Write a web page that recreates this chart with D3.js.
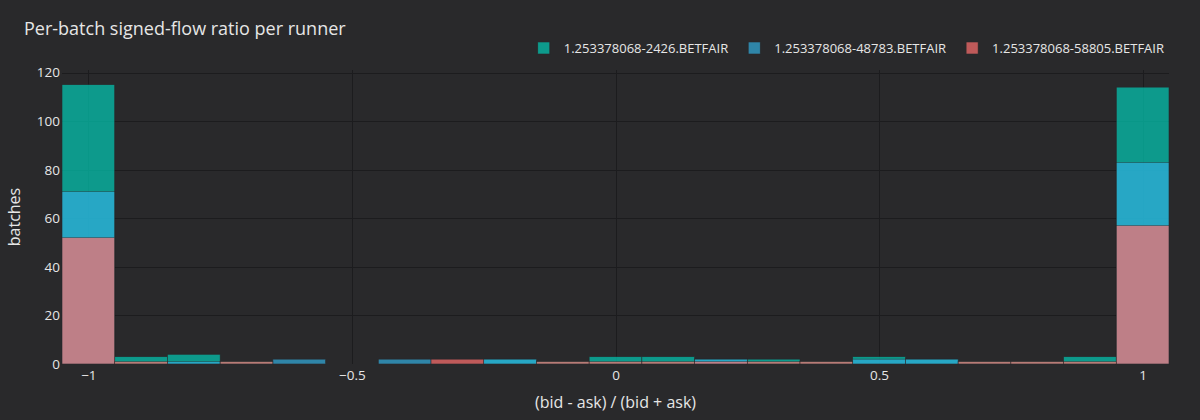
<!DOCTYPE html>
<html>
<head>
<meta charset="utf-8">
<script src="https://cdn.jsdelivr.net/npm/d3@7"></script>
<style>
  html, body { margin: 0; padding: 0; background: #29292b; }
  svg { display: block; }
  text { font-family: "Open Sans", "Noto Sans", sans-serif; }
</style>
</head>
<body>
<svg id="chart" width="1200" height="420"></svg>
<script>
// ---- data ----
const binCenters = [-1, -0.9, -0.8, -0.7, -0.6, -0.5, -0.4, -0.3, -0.2, -0.1, 0, 0.1, 0.2, 0.3, 0.4, 0.5, 0.6, 0.7, 0.8, 0.9, 1];
const binWidth = 0.1;
const seriesNames = ["1.253378068-2426.BETFAIR", "1.253378068-48783.BETFAIR", "1.253378068-58805.BETFAIR"];
const counts2426  = [115, 3, 4, 1, 0, 0, 0, 0, 2, 1, 3, 3, 2, 2, 1, 3, 2, 1, 1, 3, 114];
const counts48783 = [71, 0, 1, 0, 2, 0, 2, 0, 2, 0, 0, 0, 2, 0, 0, 2, 2, 0, 0, 0, 83];
const counts58805 = [52, 1, 0, 1, 0, 0, 0, 2, 0, 1, 1, 1, 1, 1, 1, 0, 0, 1, 1, 1, 57];
const xTicks = [-1, -0.5, 0, 0.5, 1];
const xTickLabels = ["\u22121", "\u22120.5", "0", "0.5", "1"];
const yTicks = [0, 20, 40, 60, 80, 100, 120];
const titleText = "Per-batch signed-flow ratio per runner";
const xTitle = "(bid - ask) / (bid + ask)";
const yTitle = "batches";

// ---- styles ----
const colors = ["#02cbb6", "#32adde", "#ff6f6e"];
const barOpacity = 0.7;
const gridColor = "#1c1c1e";
const textColor = "#e6e6e6";

const svg = d3.select("#chart");
const plot = { left: 62, right: 1169, top: 70, bottom: 364 };

const x = d3.scaleLinear().domain([-1.05, 1.05]).range([plot.left, plot.right]);
const y = d3.scaleLinear().domain([0, 121.05]).range([plot.bottom, plot.top]);

// background
svg.append("rect").attr("width", 1200).attr("height", 420).attr("fill", "#29292b");

// grid
const grid = svg.append("g");
grid.selectAll("line.v").data(xTicks).enter().append("line")
  .attr("x1", d => Math.round(x(d)) + 0.5).attr("x2", d => Math.round(x(d)) + 0.5)
  .attr("y1", plot.top).attr("y2", plot.bottom)
  .attr("stroke", gridColor).attr("stroke-width", 1);
grid.selectAll("line.h").data(yTicks.filter(d => d > 0)).enter().append("line")
  .attr("y1", d => Math.round(y(d)) + 0.5).attr("y2", d => Math.round(y(d)) + 0.5)
  .attr("x1", plot.left).attr("x2", plot.right)
  .attr("stroke", gridColor).attr("stroke-width", 1);

// bars (overlay)
const allSeries = [counts2426, counts48783, counts58805];
allSeries.forEach((vals, si) => {
  const data = binCenters.map((c, i) => ({ c, v: vals[i] })).filter(d => d.v > 0);
  svg.append("g").selectAll("rect").data(data).enter().append("rect")
    .attr("x", d => x(d.c - binWidth / 2))
    .attr("width", d => x(d.c + binWidth / 2) - x(d.c - binWidth / 2))
    .attr("y", d => y(d.v))
    .attr("height", d => y(0) - y(d.v))
    .attr("fill", colors[si])
    .attr("stroke", "#2a2a2c")
    .attr("stroke-width", 0.6)
    .attr("opacity", barOpacity);
});

// x axis ticks
const xAxis = d3.axisBottom(x).tickValues(xTicks).tickFormat((d, i) => xTickLabels[i]).tickSize(0).tickPadding(6);
const gx = svg.append("g").attr("transform", `translate(0,${plot.bottom})`).call(xAxis);
gx.select(".domain").remove();
gx.selectAll("text").attr("fill", textColor).style("font-size", "13.5px").style("font-family", '"Open Sans", sans-serif');

// y axis ticks
const yAxis = d3.axisLeft(y).tickValues(yTicks).tickSize(0).tickPadding(2);
const gy = svg.append("g").attr("transform", `translate(${plot.left},0)`).call(yAxis);
gy.select(".domain").remove();
gy.selectAll("text").attr("fill", textColor).style("font-size", "13.5px").style("font-family", '"Open Sans", sans-serif');

// titles
svg.append("text").attr("x", 24).attr("y", 35).text(titleText)
  .attr("fill", textColor).style("font-size", "18px");
svg.append("text").attr("x", (plot.left + plot.right) / 2).attr("y", 408).attr("text-anchor", "middle")
  .text(xTitle).attr("fill", textColor).style("font-size", "16px");
svg.append("text").attr("transform", `translate(20,${(plot.top + plot.bottom) / 2}) rotate(-90)`)
  .attr("text-anchor", "middle").text(yTitle).attr("fill", textColor).style("font-size", "16px");

// legend
const legend = svg.append("g");
const items = seriesNames.map((name, i) => {
  const g = legend.append("g");
  g.append("rect").attr("x", 0).attr("y", -6).attr("width", 12).attr("height", 12)
    .attr("fill", colors[i]).attr("opacity", barOpacity).attr("stroke", "#2a2a2c").attr("stroke-width", 0.6);
  const t = g.append("text").attr("x", 26).attr("y", 4.5).text(name)
    .attr("fill", textColor).style("font-size", "13px");
  return { g, w: 26 + t.node().getComputedTextLength() };
});
let lx = 1164;
const legendY = 48;
for (let i = items.length - 1; i >= 0; i--) {
  lx -= items[i].w;
  items[i].g.attr("transform", `translate(${lx},${legendY})`);
  lx -= 20;
}
</script>
</body>
</html>
